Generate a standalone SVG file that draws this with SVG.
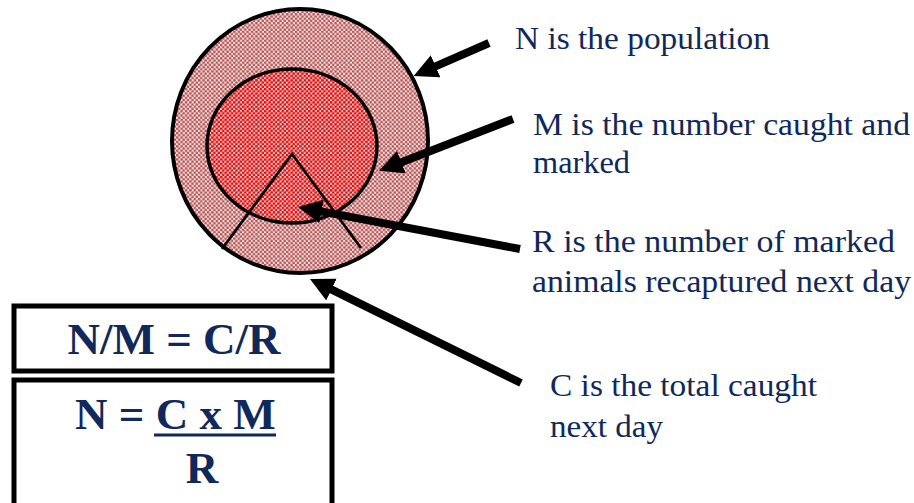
<svg xmlns="http://www.w3.org/2000/svg" width="914" height="503" viewBox="0 0 914 503">
  <style>
    .lbl { font-size: 32px; fill: #10285a; }
    .eq { font-size: 45px; font-weight: bold; fill: #10285a; }
    .box { fill: #ffffff; stroke: #000000; stroke-width: 5; }
    .conn { stroke: #000000; stroke-width: 8; fill: none; marker-end: url(#head); }
    .edge { fill: none; stroke: #000000; }
  </style>
  <defs>
    <pattern id="ringPat" patternUnits="userSpaceOnUse" width="4.4" height="4.4">
      <rect width="4.4" height="4.4" fill="#f6e4e4"/>
      <circle cx="1.1" cy="1.1" r="1.35" fill="#b85050"/>
      <circle cx="3.3" cy="3.3" r="1.35" fill="#b85050"/>
    </pattern>
    <pattern id="corePat" patternUnits="userSpaceOnUse" width="4.4" height="4.4">
      <rect width="4.4" height="4.4" fill="#f8cccc"/>
      <circle cx="1.1" cy="1.1" r="1.4" fill="#e00a0a"/>
      <circle cx="3.3" cy="3.3" r="1.4" fill="#e00a0a"/>
    </pattern>
    <marker id="head" markerUnits="userSpaceOnUse" markerWidth="26" markerHeight="26" viewBox="0 0 26 26" refX="2" refY="12" orient="auto">
      <path d="M0,0 L24,12 L0,24 z" fill="#000000"/>
    </marker>
  </defs>

  <g id="population">
    <ellipse cx="300" cy="141" rx="128" ry="132" class="edge" stroke-width="4" style="fill:url(#ringPat)"/>
  </g>
  <g id="marked">
    <ellipse cx="292" cy="146" rx="85" ry="77" class="edge" stroke-width="3.5" style="fill:url(#corePat)"/>
  </g>
  <g id="recaptured">
    <polyline points="222,249 292,154 361,248" class="edge" stroke-width="2.8"/>
  </g>

  <g id="connectors">
    <line x1="489" y1="43" x2="433.8" y2="67.1" class="conn"/>
    <line x1="513" y1="119" x2="399.5" y2="162.9" class="conn"/>
    <line x1="520" y1="249" x2="319.6" y2="211.1" class="conn"/>
    <line x1="521" y1="383" x2="329.7" y2="288.7" class="conn"/>
  </g>

  <g font-family="Liberation Serif, Times New Roman, DejaVu Serif, serif">
  <g id="label-N">
    <text class="lbl" x="515" y="49" textLength="255" lengthAdjust="spacingAndGlyphs">N is the population</text>
  </g>
  <g id="label-M">
    <text class="lbl" x="533" y="135" textLength="377" lengthAdjust="spacingAndGlyphs">M is the number caught and</text>
    <text class="lbl" x="533" y="173" textLength="97" lengthAdjust="spacingAndGlyphs">marked</text>
  </g>
  <g id="label-R">
    <text class="lbl" x="532" y="252" textLength="363" lengthAdjust="spacingAndGlyphs">R is the number of marked</text>
    <text class="lbl" x="532" y="292" textLength="379" lengthAdjust="spacingAndGlyphs">animals recaptured next day</text>
  </g>
  <g id="label-C">
    <text class="lbl" x="550" y="396" textLength="267" lengthAdjust="spacingAndGlyphs">C is the total caught</text>
    <text class="lbl" x="550" y="437" textLength="113" lengthAdjust="spacingAndGlyphs">next day</text>
  </g>

  <g id="ratio-box">
    <rect class="box" x="14" y="306" width="318" height="65"/>
    <text class="eq" x="174" y="354" text-anchor="middle">N/M = C/R</text>
  </g>
  <g id="formula-box">
    <rect class="box" x="14" y="380" width="318" height="140"/>
    <text class="eq" x="75" y="429">N = C x M</text>
    <line x1="154" y1="435" x2="276" y2="435" stroke="#10285a" stroke-width="3"/>
    <text class="eq" x="202" y="483" text-anchor="middle">R</text>
  </g>
  </g>
</svg>
